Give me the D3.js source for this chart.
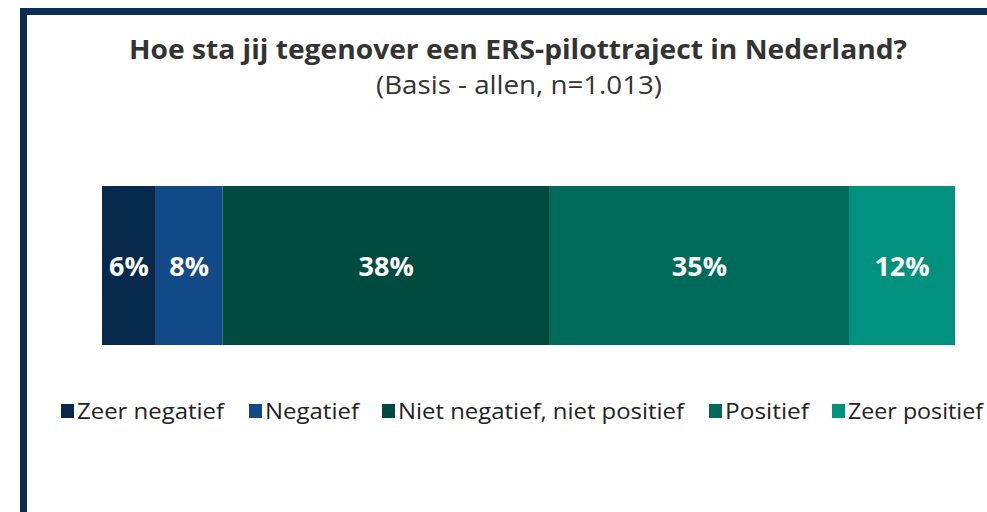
<!DOCTYPE html>
<html><head><meta charset="utf-8">
<script src="https://cdn.jsdelivr.net/npm/d3@7"></script>
<style>html,body{margin:0;padding:0;background:#fff;}svg{display:block;}</style>
</head><body>
<svg id="c" width="987" height="512"></svg>
<script>
const categories = ["Zeer negatief","Negatief","Niet negatief, niet positief","Positief","Zeer positief"];
const values = [6.3, 7.8, 38.3, 35.0, 12.4];
const labels = ["6%","8%","38%","35%","12%"];
const colors = ["#072a4c","#114a86","#004b40","#006b5b","#00917f"];
const title = "Hoe sta jij tegenover een ERS-pilottraject in Nederland?";
const subtitle = "(Basis - allen, n=1.013)";

const svg = d3.select("#c");
const font = "'Open Sans', 'DejaVu Sans', sans-serif";

// frame
svg.append("rect").attr("x",23.5).attr("y",11.5).attr("width",1000).attr("height",600)
  .attr("fill","none").attr("stroke","#0a2d52").attr("stroke-width",7);

// title
svg.append("text").attr("x",518).attr("y",59).attr("text-anchor","middle")
  .attr("font-family",font).attr("font-weight",700).attr("font-size",26).attr("fill","#333")
  .attr("textLength",778).attr("lengthAdjust","spacingAndGlyphs")
  .text(title);

svg.append("text").attr("x",519).attr("y",94).attr("text-anchor","middle")
  .attr("font-family",font).attr("font-size",25).attr("fill","#333")
  .attr("textLength",286).attr("lengthAdjust","spacingAndGlyphs").text(subtitle);

// bar
const total = d3.sum(values);
const x = d3.scaleLinear().domain([0,total]).range([102,955]);
const y = d3.scaleBand().domain(["all"]).range([186,345]).padding(0);
const starts = values.map((v,i)=>d3.sum(values.slice(0,i)));
const segs = values.map((v,i)=>({cat:categories[i],v,start:starts[i],label:labels[i],color:colors[i]}));

svg.append("g").selectAll("rect").data(segs).join("rect")
  .attr("x",d=>x(d.start)).attr("y",y("all"))
  .attr("width",d=>x(d.start+d.v)-x(d.start)).attr("height",y.bandwidth())
  .attr("fill",d=>d.color);

svg.append("g").selectAll("text").data(segs).join("text")
  .attr("x",d=>x(d.start+d.v/2)).attr("y",y("all")+y.bandwidth()/2+10)
  .attr("text-anchor","middle").attr("font-family",font).attr("font-weight",700)
  .attr("font-size",27).attr("fill","#fff").text(d=>d.label);

// legend
const lg = svg.append("g");
const legX = [61,249,382,709,832];
const legW = [147,94,286,84,135];
segs.forEach((d,i)=>{
  lg.append("rect").attr("x",legX[i]).attr("y",404).attr("width",13).attr("height",14).attr("fill",d.color);
  lg.append("text").attr("x",legX[i]+16).attr("y",419).attr("font-family",font)
    .attr("font-size",22).attr("fill","#222")
    .attr("textLength",legW[i]).attr("lengthAdjust","spacingAndGlyphs").text(d.cat);
});
</script>
</body></html>
